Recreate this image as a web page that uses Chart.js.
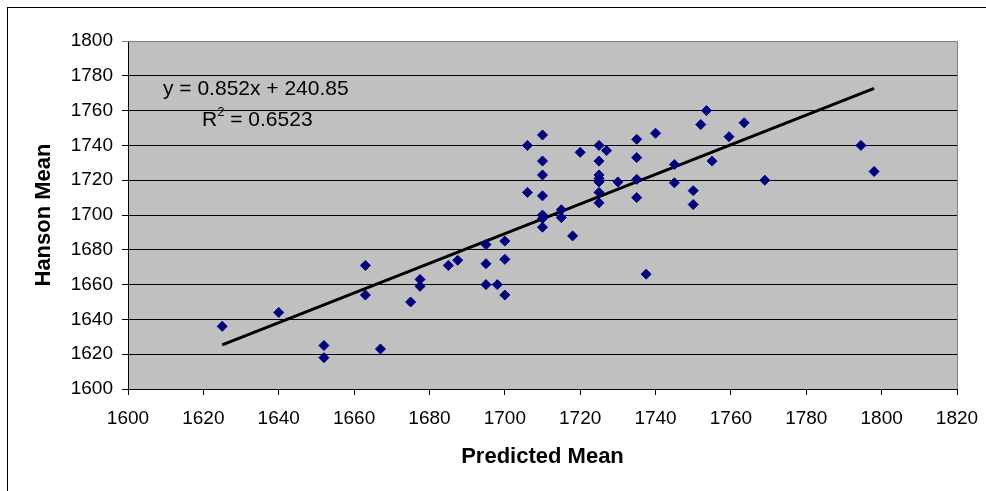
<!DOCTYPE html>
<html>
<head>
<meta charset="utf-8">
<script src="https://cdn.jsdelivr.net/npm/chart.js@4/dist/chart.umd.min.js"></script>
<style>
html,body{margin:0;padding:0;background:#fff;}
#wrap{width:986px;height:491px;position:relative;}
</style>
</head>
<body>
<div id="wrap"><canvas id="c" width="986" height="491"></canvas></div>
<script>
// Predicted Mean (x) values
const predicted = [1625,1640,1652,1652,1663,1663,1667,1675,1677.5,1677.5,1685,1687.5,1695,1695,1695,1698,1700,1700,1700,1706,1706,1710,1710,1710,1710,1710,1710,1710,1715,1715,1718,1720,1725,1725,1725,1725,1725,1725,1725,1727,1730,1735,1735,1735,1735,1737.5,1740,1745,1745,1750,1750,1752,1753.5,1755,1759.5,1763.5,1769,1794.5,1798];
// Hanson Mean (y) values
const hanson = [1636,1644,1625,1618,1671,1654,1623,1650,1663,1659,1671,1674,1683,1672,1660,1660,1685,1674.5,1654,1740,1713,1746,1731,1723,1711,1700,1698,1693,1703,1698.5,1688,1736,1740,1731,1723,1721,1719,1713,1707,1737,1719,1743.5,1733,1720.5,1710,1666,1747,1729,1718.5,1714,1706,1752,1760,1731,1745,1753,1720,1740,1725];
const xTicks = [1600,1620,1640,1660,1680,1700,1720,1740,1760,1780,1800,1820];
const yTicks = [1600,1620,1640,1660,1680,1700,1720,1740,1760,1780,1800];
const slope = 0.852, intercept = 240.85;
const eqLabel = "y = 0.852x + 240.85";
const r2Label = "0.6523";

const pts = predicted.map((x,i)=>({x:x,y:hanson[i]}));
const xmin = Math.min(...predicted), xmax = Math.max(...predicted);
const trend = [{x:xmin,y:slope*xmin+intercept},{x:xmax,y:slope*xmax+intercept}];

const FONT = "'Liberation Sans', Arial, sans-serif";

const bgPlugin = {
  id:'bg',
  beforeDraw(chart){
    const {ctx, chartArea:a} = chart;
    ctx.save();
    ctx.fillStyle = '#fff';
    ctx.fillRect(0,0,chart.width,chart.height);
    ctx.strokeStyle = '#000';
    ctx.lineWidth = 1;
    ctx.strokeRect(7.5,7.5,chart.width+10,chart.height+10);
    ctx.fillStyle = '#C0C0C0';
    ctx.fillRect(a.left,a.top,a.right-a.left,a.bottom-a.top);
    ctx.restore();
  },
  afterDatasetsDraw(chart){
    const {ctx, chartArea:a} = chart;
    ctx.save();
    ctx.strokeStyle = '#808080';
    ctx.lineWidth = 1;
    ctx.beginPath();
    ctx.moveTo(a.left, a.top+0.5); ctx.lineTo(a.right+0.5, a.top+0.5); ctx.lineTo(a.right+0.5, a.bottom);
    ctx.stroke();
    // equation labels
    ctx.fillStyle = '#000';
    ctx.textBaseline = 'alphabetic';
    ctx.textAlign = 'left';
    ctx.font = '21px ' + FONT;
    ctx.fillText(eqLabel, 163, 95);
    ctx.fillText('R', 202, 126);
    const rw = ctx.measureText('R').width;
    ctx.font = '13px ' + FONT;
    ctx.fillText('2', 202+rw, 116);
    const sw = ctx.measureText('2').width;
    ctx.font = '21px ' + FONT;
    ctx.fillText(' = ' + r2Label, 202+rw+sw, 126);
    ctx.restore();
  }
};

new Chart(document.getElementById('c'), {
  type:'scatter',
  data:{
    datasets:[
      {data:pts, pointStyle:'rectRot', pointRadius:5, pointBorderWidth:1,
       backgroundColor:'#000080', borderColor:'#000080', order:1},
      {type:'line', data:trend, borderColor:'#000', borderWidth:3, pointRadius:0, fill:false, order:2}
    ]
  },
  options:{
    responsive:false,
    animation:false,
    devicePixelRatio:1,
    layout:{padding:{left:7,right:29,top:41,bottom:0}},
    plugins:{legend:{display:false}, tooltip:{enabled:false}},
    scales:{
      x:{
        type:'linear', min:1600, max:1820,
        afterBuildTicks(s){ s.ticks = xTicks.map(v=>({value:v})); },
        afterFit(s){ s.height = 102; s.paddingLeft = 0; s.paddingRight = 0; },
        grid:{display:true, drawOnChartArea:false, drawTicks:true, tickLength:6, color:'#000'},
        border:{display:true, color:'#000', width:1},
        ticks:{color:'#000', font:{family:FONT, size:19}, padding:12, maxRotation:0, autoSkip:false,
          callback:(v)=>String(v)},
        title:{display:true, text:'Predicted Mean', color:'#000', font:{family:FONT, size:22, weight:'bold'}, padding:{top:0,bottom:21}}
      },
      y:{
        type:'linear', min:1600, max:1800,
        afterBuildTicks(s){ s.ticks = yTicks.map(v=>({value:v})); },
        afterFit(s){ s.width = 121; s.paddingTop = 0; s.paddingBottom = 0; },
        grid:{display:true, drawOnChartArea:true, drawTicks:true, tickLength:6,
          color:(c)=> (c.tick && c.tick.value===1800) ? '#808080' : '#000'},
        border:{display:true, color:'#000', width:1},
        ticks:{color:'#000', font:{family:FONT, size:19}, padding:9, autoSkip:false,
          callback:(v)=>String(v)},
        title:{display:true, text:'Hanson Mean', color:'#000', font:{family:FONT, size:22, weight:'bold'}, padding:{top:24,bottom:0}}
      }
    }
  },
  plugins:[bgPlugin]
});
</script>
</body>
</html>
